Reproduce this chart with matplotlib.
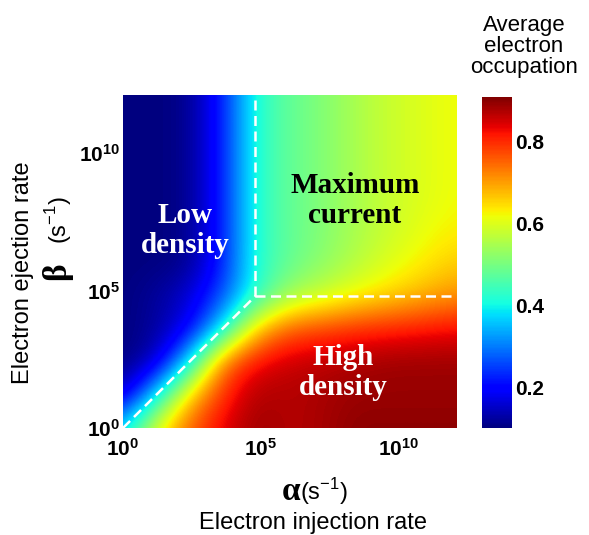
import numpy as np
import matplotlib
matplotlib.use("Agg")
import matplotlib.pyplot as plt

plt.rcParams['font.family'] = ['Liberation Sans', 'DejaVu Sans']
plt.rcParams['mathtext.fontset'] = 'custom'
plt.rcParams['mathtext.rm'] = 'Liberation Sans'
plt.rcParams['mathtext.bf'] = 'Liberation Sans:bold'

# log10 of the rates at the grid nodes (same nodes for alpha and beta)
grid_exp = [0, 1.2, 2.4, 3.6, 4.8, 6.0, 7.2, 8.4, 9.6, 10.8, 12.0]

# average electron occupation, one row per beta node (bottom -> top),
# columns follow alpha nodes
occupation = [
    [0.38, 0.62, 0.76, 0.84, 0.89, 0.87, 0.88, 0.90, 0.90, 0.90, 0.90],
    [0.14, 0.38, 0.66, 0.80, 0.88, 0.87, 0.88, 0.89, 0.89, 0.89, 0.89],
    [0.10, 0.14, 0.38, 0.74, 0.83, 0.86, 0.87, 0.88, 0.89, 0.89, 0.89],
    [0.10, 0.12, 0.18, 0.38, 0.66, 0.76, 0.78, 0.80, 0.81, 0.82, 0.83],
    [0.10, 0.12, 0.16, 0.26, 0.42, 0.54, 0.58, 0.62, 0.65, 0.68, 0.71],
    [0.10, 0.10, 0.11, 0.22, 0.42, 0.48, 0.52, 0.56, 0.60, 0.63, 0.66],
    [0.10, 0.10, 0.11, 0.22, 0.42, 0.48, 0.51, 0.55, 0.58, 0.61, 0.63],
    [0.10, 0.10, 0.11, 0.22, 0.42, 0.48, 0.51, 0.55, 0.58, 0.60, 0.62],
    [0.10, 0.10, 0.11, 0.22, 0.42, 0.48, 0.51, 0.55, 0.58, 0.60, 0.62],
    [0.10, 0.10, 0.11, 0.22, 0.42, 0.48, 0.51, 0.55, 0.58, 0.60, 0.62],
    [0.10, 0.10, 0.11, 0.22, 0.42, 0.48, 0.51, 0.55, 0.58, 0.60, 0.62],
]

crit_exp = 4.8      # corner of the phase boundaries
max_exp = 12.1      # axis limit, 10^12.1
tick_exps = [0, 5, 10]
cbar_ticks = [0.2, 0.4, 0.6, 0.8]

W, H = 589, 535
fig = plt.figure(figsize=(W / 100, H / 100), dpi=100)
ax = fig.add_axes([123 / W, 107 / H, 334 / W, 333 / H])
cax = fig.add_axes([482 / W, 107 / H, 30 / W, 331 / H])

step = grid_exp[1] - grid_exp[0]
ext = [grid_exp[0] - step / 2, grid_exp[-1] + step / 2]
im = ax.imshow(np.array(occupation), origin='lower', cmap='jet', vmin=0.1, vmax=0.91,
               extent=[ext[0], ext[1], ext[0], ext[1]], interpolation='bicubic',
               aspect='auto')
ax.set_xlim(0, max_exp)
ax.set_ylim(0, max_exp)

line_kw = dict(color='white', lw=1.8, dashes=(4, 2.2))
ax.plot([0, crit_exp], [0, crit_exp], **line_kw)
ax.plot([crit_exp, crit_exp], [crit_exp, max_exp], **line_kw)
ax.plot([crit_exp, max_exp], [crit_exp, crit_exp], **line_kw)

labels = [r'$\mathbf{10^{%d}}$' % e for e in tick_exps]
ax.set_xticks(tick_exps)
ax.set_xticklabels(labels)
ax.set_yticks(tick_exps)
ax.set_yticklabels(labels)
ax.tick_params(axis='both', length=0, labelsize=15)
ax.tick_params(axis='x', pad=7)
ax.tick_params(axis='y', pad=2)
for s in ax.spines.values():
    s.set_visible(False)

serif = ['Liberation Serif', 'DejaVu Serif']
ax.text(2.25, 7.17, 'Low\ndensity', color='white', fontsize=21,
        fontweight='bold', family=serif, ha='center', va='center', linespacing=1.15)
ax.text(8.4, 8.26, 'Maximum\ncurrent', color='black', fontsize=21,
        fontweight='bold', family=serif, ha='center', va='center', linespacing=1.15)
ax.text(7.97, 2.03, 'High\ndensity', color='white', fontsize=21,
        fontweight='bold', family=serif, ha='center', va='center', linespacing=1.15)

cb = fig.colorbar(im, cax=cax, ticks=cbar_ticks)
cb.outline.set_visible(False)
cax.tick_params(length=0, pad=2, labelsize=15)
for t in cax.get_yticklabels():
    t.set_fontweight('bold')

fig.text(524 / W, 1 - 47 / H, 'Average\nelectron\noccupation', fontsize=16,
         ha='center', va='center', linespacing=1.0)

# x label
fig.text(300 / W, 35 / H, 'α', fontsize=24, fontweight='bold', family=serif,
         ha='right', va='baseline')
fig.text(300 / W, 35 / H, r'(s$^{-1}$)', fontsize=17, ha='left', va='baseline')
fig.text(313 / W, 6 / H, 'Electron injection rate', fontsize=17,
         ha='center', va='baseline')

# y label
fig.text(23 / W, 1 - 273 / H, 'Electron ejection rate', fontsize=17,
         rotation=90, ha='center', va='center')
fig.text(57 / W, 1 - 271 / H, 'β', fontsize=24, fontweight='bold', family=serif,
         rotation=90, ha='center', va='center')
fig.text(59 / W, 1 - 220 / H, r'(s$^{-1}$)', fontsize=17,
         rotation=90, ha='center', va='center')

fig.savefig('out.png', dpi=100)
